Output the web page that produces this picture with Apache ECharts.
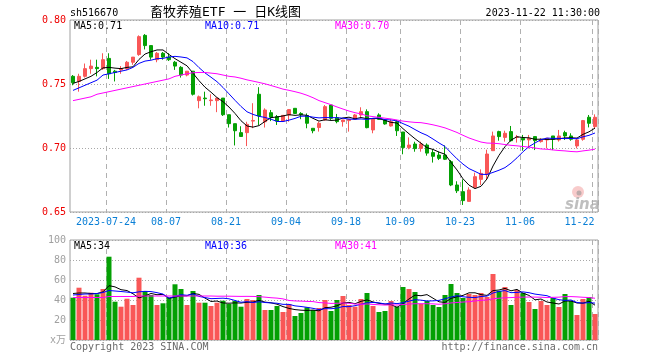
<!DOCTYPE html>
<html><head><meta charset="utf-8">
<script src="https://cdn.jsdelivr.net/npm/echarts@6/dist/echarts.min.js"></script>
<style>html,body{margin:0;padding:0;background:#fff;}#c{width:660px;height:360px;}</style>
</head><body><div id="c"></div>
<script>
const dates = ['2023-07-14','2023-07-17','2023-07-18','2023-07-19','2023-07-20','2023-07-21','2023-07-24','2023-07-25','2023-07-26','2023-07-27','2023-07-28','2023-07-31',
'2023-08-01','2023-08-02','2023-08-03','2023-08-04','2023-08-07','2023-08-08','2023-08-09','2023-08-10','2023-08-11','2023-08-14','2023-08-15','2023-08-16','2023-08-17','2023-08-18','2023-08-21','2023-08-22','2023-08-23','2023-08-24','2023-08-25','2023-08-28','2023-08-29','2023-08-30','2023-08-31',
'2023-09-01','2023-09-04','2023-09-05','2023-09-06','2023-09-07','2023-09-08','2023-09-11','2023-09-12','2023-09-13','2023-09-14','2023-09-15','2023-09-18','2023-09-19','2023-09-20','2023-09-21','2023-09-22','2023-09-25','2023-09-26','2023-09-27','2023-09-28',
'2023-10-09','2023-10-10','2023-10-11','2023-10-12','2023-10-13','2023-10-16','2023-10-17','2023-10-18','2023-10-19','2023-10-20','2023-10-23','2023-10-24','2023-10-25','2023-10-26','2023-10-27','2023-10-30','2023-10-31',
'2023-11-01','2023-11-02','2023-11-03','2023-11-06','2023-11-07','2023-11-08','2023-11-09','2023-11-10','2023-11-13','2023-11-14','2023-11-15','2023-11-16','2023-11-17','2023-11-20','2023-11-21','2023-11-22'];

const opens = [0.756,0.752,0.756,0.762,0.763,0.762,0.770,0.760,0.761,0.762,0.767,0.773,
0.788,0.780,0.769,0.774,0.771,0.767,0.763,0.757,0.760,0.737,0.739,0.737,0.737,0.739,0.726,0.719,0.712,0.712,0.721,0.742,0.7205,0.7276,0.7245,
0.721,0.7258,0.731,0.727,0.7253,0.7154,0.716,0.7219,0.7336,0.7237,0.7206,0.7214,0.7224,0.7258,0.7284,0.7141,0.7258,0.7219,0.7172,0.7206,
0.7125,0.7003,0.7031,0.6997,0.7023,0.6964,0.6945,0.6945,0.6893,0.6711,0.6659,0.6583,0.6693,0.6755,0.6792,0.6979,0.7128,
0.7083,0.7128,0.7083,0.7076,0.7063,0.7089,0.7050,0.7063,0.7094,0.7063,0.7120,0.7094,0.7016,0.7068,0.7240,0.7167];
const closes = [0.751,0.756,0.762,0.764,0.762,0.769,0.758,0.759,0.762,0.767,0.771,0.787,
0.780,0.771,0.774,0.771,0.769,0.764,0.757,0.760,0.742,0.740,0.7385,0.7375,0.739,0.726,0.719,0.7135,0.709,0.7185,0.7215,0.725,0.7297,0.724,0.721,
0.7255,0.730,0.727,0.726,0.7193,0.7135,0.7193,0.7323,0.7232,0.7206,0.7219,0.7224,0.7258,0.7284,0.7159,0.7224,0.7224,0.7188,0.7206,0.7135,
0.7003,0.7023,0.6995,0.7031,0.6960,0.6935,0.6919,0.6912,0.6711,0.6666,0.6589,0.6672,0.6776,0.6802,0.6953,0.7094,0.7089,
0.7115,0.7057,0.7086,0.7063,0.7076,0.7057,0.7063,0.7076,0.7068,0.7094,0.7094,0.7068,0.7063,0.7214,0.7193,0.7240];
const lows = [0.749,0.744,0.755,0.758,0.756,0.761,0.754,0.752,0.758,0.761,0.765,0.772,
0.777,0.769,0.767,0.769,0.768,0.761,0.755,0.756,0.741,0.731,0.733,0.733,0.728,0.725,0.716,0.702,0.709,0.7015,0.7155,0.718,0.716,0.721,0.718,
0.7205,0.7205,0.7265,0.7225,0.7154,0.7115,0.7128,0.7214,0.7219,0.7193,0.7167,0.7128,0.7219,0.7232,0.7154,0.7115,0.7219,0.7182,0.7167,0.7094,
0.6951,0.6990,0.6971,0.6971,0.6940,0.6886,0.6906,0.6906,0.6702,0.6648,0.6555,0.6583,0.6685,0.6711,0.6750,0.6979,0.7057,
0.7050,0.7050,0.7042,0.6979,0.6997,0.6984,0.7042,0.6997,0.6984,0.7050,0.7063,0.7057,0.6997,0.7057,0.7161,0.7154];
const highs = [0.757,0.758,0.766,0.769,0.769,0.774,0.774,0.761,0.764,0.768,0.771,0.788,
0.789,0.780,0.775,0.775,0.774,0.768,0.764,0.760,0.760,0.741,0.744,0.742,0.739,0.739,0.726,0.719,0.717,0.7205,0.735,0.7475,0.731,0.7297,0.7258,
0.7255,0.730,0.731,0.728,0.727,0.7154,0.7206,0.7336,0.7336,0.7266,0.7219,0.7224,0.7266,0.7318,0.7302,0.7229,0.7271,0.7224,0.7224,0.7219,
0.7125,0.7083,0.7049,0.7049,0.7036,0.6990,0.6971,0.7020,0.6906,0.6740,0.6755,0.6693,0.6807,0.6833,0.6987,0.7128,0.7135,
0.7135,0.7172,0.7102,0.7102,0.7102,0.7089,0.7076,0.7076,0.7094,0.7141,0.7135,0.7115,0.7076,0.7219,0.7258,0.7263];
const volumes = [42.3,52.3,44.3,47.3,45.7,51,83.3,38.3,33.3,41.3,35,62.3,
49,45,35,36.7,42.3,55.7,51,35,49,37.3,37.3,34,37.3,39.3,36,39,33.3,41,40,45,30,30,34,
28,36,24,27,32.7,30,32,40,29,40,44,35,33.3,41,47,34,28,29,39,33.3,
53,51,48,36,39,35,33,45,56,47,42,46,45,47,43,66,49,
53,35,50,47,38,31,39,35,42,33,46,39,25,41,43,26];

// first points of the moving averages (window not yet full in the shown range)
const ma5Head = [0.7505,0.752,0.754,0.756];
const ma10Head = [0.745,0.747,0.749,0.751,0.753,0.757,0.758,0.759,0.760];
const ma30Head = [0.737,0.738,0.739,0.740,0.742,0.743,0.744,0.745,0.746,0.747,0.748,0.749,0.750,0.751,0.752,0.753,0.754,0.756,0.757,0.758,0.7588,0.759,0.759,0.7585,0.758,0.757,0.756,0.7555,0.7545];
const volMa5Head = [46.5,47,47,46.5];
const volMa10Head = [45,45.5,46,46,46.5,47.5,49.5,49,48.5];
const volMa30Head = [42.5,42.5,42.5,42.5,42.5,42.5,43.5,43.5,43.5,43.5,43.5,44,44,44,44,44,44,44,44,44,44,44,44,44,43.8,43.8,43.8,43.7,43.6];

const tickDates = ['2023-07-24','2023-08-07','2023-08-21','2023-09-04','2023-09-18','2023-10-09','2023-10-23','2023-11-06','2023-11-22'];
const priceTicks = [0.65,0.70,0.75,0.80];
const volTicks = [0,20,40,60,80,100];
const maLabels = ['MA5:0.71','MA10:0.71','MA30:0.70'];
const volMaLabels = ['MA5:34','MA10:36','MA30:41'];
const headerCode = 'sh516670';
const headerTitle = '畜牧养殖ETF 一 日K线图';
const headerTime = '2023-11-22 11:30:00';
const footLeft = 'Copyright 2023 SINA.COM';
const footRight = 'http://finance.sina.com.cn';

const UP = '#f95757', DOWN = '#04a004';
const MA_COLORS = ['#000000','#0000ff','#ff00ff'];
const MONO = "'DejaVu Sans Mono', 'Noto Sans CJK SC', monospace";

function movingAvg(arr, n, head) {
  return arr.map((_, i) => {
    if (i < n - 1) return head[i];
    let s = 0; for (let k = i - n + 1; k <= i; k++) s += arr[k];
    return s / n;
  });
}
const tickIdx = tickDates.map(d => dates.indexOf(d));
const kData = dates.map((_, i) => [opens[i], closes[i], lows[i], highs[i]]);
const isUp = i => closes[i] >= opens[i];

const splitX = {show: true, interval: (i) => tickIdx.includes(i), lineStyle: {color: '#b0b0b0', type: [5, 4], width: 1}};
const chart = echarts.init(document.getElementById('c'), null, {renderer: 'canvas'});
const textEl = (x, y, text, fill, align, font) => ({type: 'text', x, y, silent: true, z: 100,
  style: {text, fill, align: align || 'left', verticalAlign: 'middle', font: font || ('10px ' + MONO)}});

chart.setOption({
  animation: false,
  backgroundColor: '#fff',
  grid: [
    {left: 70, top: 20, width: 528, height: 192, show: true, borderColor: '#a0a0a0', borderWidth: 1, outerBoundsMode: 'none'},
    {left: 70, top: 240, width: 528, height: 100, show: true, borderColor: '#a0a0a0', borderWidth: 1, outerBoundsMode: 'none'}
  ],
  xAxis: [
    {type: 'category', gridIndex: 0, data: dates, boundaryGap: true,
      axisLine: {show: false}, axisTick: {show: false}, splitLine: splitX,
      axisLabel: {show: true, interval: (i) => tickIdx.includes(i), margin: 5,
        formatter: (v, i) => { const t = tickIdx.indexOf(i) === 0 ? v : v.slice(5); return (i === dates.length - 1 ? '{r|' : '{c|') + t + '}'; },
        rich: {c: {padding: [0, 6, 0, 0], fontFamily: MONO, fontSize: 10, color: '#0a7fd6'},
               r: {padding: [0, 31, 0, 0], fontFamily: MONO, fontSize: 10, color: '#0a7fd6'}}}},
    {type: 'category', gridIndex: 1, data: dates, boundaryGap: true,
      axisLine: {show: false}, axisTick: {show: false}, axisLabel: {show: false}, splitLine: splitX}
  ],
  yAxis: [
    {type: 'value', gridIndex: 0, min: priceTicks[0], max: priceTicks[priceTicks.length - 1], interval: 0.05, scale: true,
      axisLine: {show: false}, axisTick: {show: false},
      axisLabel: {margin: 4, color: '#ee0000', fontFamily: MONO, fontSize: 10, formatter: v => v.toFixed(2)},
      splitLine: {show: true, lineStyle: {color: '#a8a8a8', type: [1, 2]}}},
    {type: 'value', gridIndex: 1, min: volTicks[0], max: volTicks[volTicks.length - 1], interval: 20,
      axisLine: {show: false}, axisTick: {show: false},
      axisLabel: {margin: 4, color: '#a0a0a0', fontFamily: MONO, fontSize: 10, formatter: v => v === 0 ? 'x万' : String(v)},
      splitLine: {show: true, lineStyle: {color: '#a8a8a8', type: [1, 2]}}}
  ],
  series: [
    {type: 'candlestick', xAxisIndex: 0, yAxisIndex: 0, data: kData, barWidth: 4,
      itemStyle: {color: UP, color0: DOWN, borderColor: UP, borderColor0: DOWN, borderWidth: 1}},
    {type: 'line', xAxisIndex: 0, yAxisIndex: 0, data: movingAvg(closes, 5, ma5Head), symbol: 'none', lineStyle: {color: MA_COLORS[0], width: 1}},
    {type: 'line', xAxisIndex: 0, yAxisIndex: 0, data: movingAvg(closes, 10, ma10Head), symbol: 'none', lineStyle: {color: MA_COLORS[1], width: 1}},
    {type: 'line', xAxisIndex: 0, yAxisIndex: 0, data: movingAvg(closes, 30, ma30Head), symbol: 'none', lineStyle: {color: MA_COLORS[2], width: 1}},
    {type: 'bar', xAxisIndex: 1, yAxisIndex: 1, barWidth: 5,
      data: volumes.map((v, i) => ({value: v, itemStyle: {color: isUp(i) ? UP : DOWN}}))},
    {type: 'line', xAxisIndex: 1, yAxisIndex: 1, data: movingAvg(volumes, 5, volMa5Head), symbol: 'none', lineStyle: {color: MA_COLORS[0], width: 1}},
    {type: 'line', xAxisIndex: 1, yAxisIndex: 1, data: movingAvg(volumes, 10, volMa10Head), symbol: 'none', lineStyle: {color: MA_COLORS[1], width: 1}},
    {type: 'line', xAxisIndex: 1, yAxisIndex: 1, data: movingAvg(volumes, 30, volMa30Head), symbol: 'none', lineStyle: {color: MA_COLORS[2], width: 1}}
  ],
  graphic: [
    textEl(70, 13, headerCode, '#000'),
    textEl(150, 13, headerTitle, '#000', 'left', '13px ' + MONO),
    textEl(600, 13, headerTime, '#000', 'right'),
    textEl(74, 26, maLabels[0], MA_COLORS[0]),
    textEl(205, 26, maLabels[1], MA_COLORS[1]),
    textEl(335, 26, maLabels[2], MA_COLORS[2]),
    textEl(74, 246, volMaLabels[0], MA_COLORS[0]),
    textEl(205, 246, volMaLabels[1], MA_COLORS[1]),
    textEl(335, 246, volMaLabels[2], MA_COLORS[2]),
    textEl(70, 347, footLeft, '#6a6a6a'),
    textEl(598, 347, footRight, '#6a6a6a', 'right'),
    {type: 'circle', shape: {cx: 578, cy: 192, r: 6}, style: {fill: 'rgba(240,140,140,0.45)'}, silent: true, z: 50},
    {type: 'circle', shape: {cx: 579, cy: 193, r: 2.5}, style: {fill: 'rgba(150,150,150,0.6)'}, silent: true, z: 51},
    textEl(565, 205, 'sina', 'rgba(170,170,170,0.75)', 'left', 'italic bold 15px "DejaVu Sans"')
  ]
});
</script></body></html>
